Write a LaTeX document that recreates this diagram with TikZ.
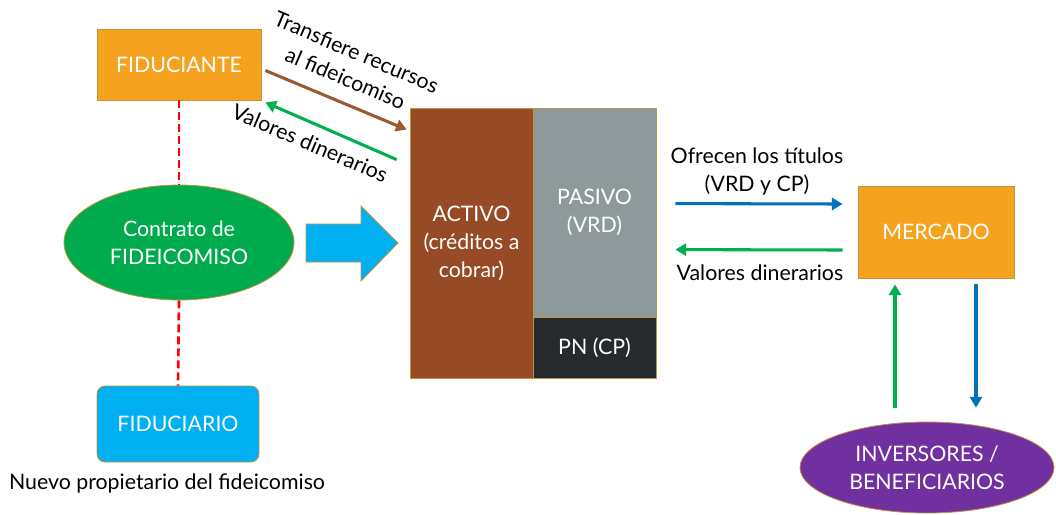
\documentclass[tikz,border=0pt]{standalone}
\usepackage{fontspec}
\setmainfont{Lato}
\usetikzlibrary{arrows.meta,calc,shapes.geometric}
\definecolor{orng}{HTML}{F5A31F}
\definecolor{grn}{HTML}{00AB4E}
\definecolor{cyn}{HTML}{00B0F0}
\definecolor{purp}{HTML}{7030A0}
\definecolor{brwn}{HTML}{964B26}
\definecolor{gry}{HTML}{8E999C}
\definecolor{drk}{HTML}{262A2D}
\definecolor{edge}{HTML}{C4923F}
\definecolor{arrbrown}{HTML}{9A5A2F}
\definecolor{arrgreen}{HTML}{00B050}
\definecolor{arrblue}{HTML}{0070C0}
\tikzset{
  shp/.style={draw=edge, line width=0.6pt, text=white, align=center, inner sep=0pt},
  conn/.style={line width=2.3pt, -{Triangle[length=8pt,width=9pt]}},
  lbl/.style={text=black, align=center, inner sep=0pt},
  reddash/.style={red, line width=2pt, dash pattern=on 6pt off 3pt},
}
\begin{document}
\begin{tikzpicture}[x=0.75pt,y=-0.75pt, font=\fontsize{16}{21}\selectfont]
\useasboundingbox (0,0) rectangle (1056,514);
% left column
\node[shp, fill=orng, minimum width=123pt, minimum height=53.25pt] (fid) at (179,64.5) {FIDUCIANTE};
\node[shp, ellipse, fill=grn, minimum width=172.5pt, minimum height=86.25pt] (con) at (179,242.5) {Contrato de\\FIDEICOMISO};
\node[shp, fill=cyn, rounded corners=6pt, minimum width=121.5pt, minimum height=57pt] (fdr) at (178,424) {FIDUCIARIO};
\node[lbl] (nuevo) at (167,483) {Nuevo propietario del fideicomiso};
\draw[reddash] (fid.south) -- (con.north);
\draw[reddash] (con.south) -- (fdr.north);
% big arrow
\draw[draw=edge, line width=0.6pt, fill=cyn] (306,224) -- (361,224) -- (361,206) -- (398,243) -- (361,281) -- (361,262) -- (306,262) -- cycle;
% balance block
\node[shp, fill=brwn, minimum width=92.25pt, minimum height=202.5pt] (act) at (471.5,243) {ACTIVO\\(créditos a\\cobrar)};
\node[shp, fill=gry, minimum width=92.25pt, minimum height=156.75pt] (pas) at (594.5,212.5) {PASIVO\\(VRD)};
\node[shp, fill=drk, minimum width=92.25pt, minimum height=45.75pt] (pn) at (594.5,347.5) {PN (CP)};
% arrows fiduciante <-> activo
\draw[conn, arrbrown] ([shift={(4,6)}]fid.east) -- ([shift={(-3,22)}]act.north west);
\draw[conn, arrgreen] ([shift={(-13,52)}]act.north west) -- ([shift={(4,2)}]fid.south east);
\node[lbl, rotate=-23] (transf) at (351,65) {Transfiere recursos\\al fideicomiso};
\node[lbl, rotate=-23] (valL) at (310,143) {Valores dinerarios};
% right
\node[shp, fill=orng, minimum width=117pt, minimum height=69pt] (mer) at (936,232) {MERCADO};
\node[shp, ellipse, fill=purp, minimum width=190.5pt, minimum height=68.25pt] (inv) at (927,467.5) {INVERSORES /\\BENEFICIARIOS};
\draw[conn, arrblue] ([shift={(19,96)}]pas.north east) -- ([shift={(-15,-28)}]mer.west);
\draw[conn, arrgreen] ([shift={(-15,18)}]mer.west) -- ([shift={(19,142)}]pas.north east);
\node[lbl] (ofr) at (757,171) {Ofrecen los títulos\\(VRD y CP)};
\node[lbl] (valR) at (760,273) {Valores dinerarios};
\draw[conn, arrgreen] ([shift={(-32,-14)}]inv.north) -- ([shift={(-41,6)}]mer.south);
\draw[conn, arrblue] ([shift={(40,6)}]mer.south) -- ([shift={(49,-14)}]inv.north);
\end{tikzpicture}
\end{document}
